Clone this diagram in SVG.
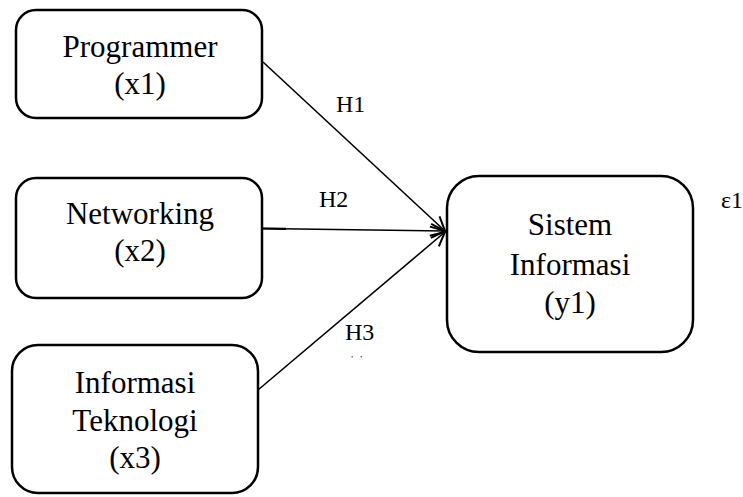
<svg xmlns="http://www.w3.org/2000/svg" width="743" height="497" viewBox="0 0 743 497">
  <style>
    .box { fill: #fff; stroke: #000; stroke-width: 2.5; }
    .lbl { font-family: "Liberation Serif", "Times New Roman", serif; font-size: 31px; fill: #000; text-anchor: middle; }
    .hyp { font-family: "Liberation Serif", "Times New Roman", serif; font-size: 24px; fill: #000; }
    .edge { stroke: #000; stroke-width: 1.6; fill: none; marker-end: url(#arrow); }
  </style>
  <defs>
    <marker id="arrow" viewBox="0 0 20 20" refX="18" refY="10" markerWidth="20" markerHeight="20" markerUnits="userSpaceOnUse" orient="auto">
      <path d="M4,3 L18,10 L4,17" fill="none" stroke="#000" stroke-width="2"/>
    </marker>
  </defs>

  <rect width="743" height="497" fill="#fff"/>

  <g id="connectors">
    <line class="edge" x1="263" y1="62" x2="445" y2="231"/>
    <line class="edge" x1="262" y1="228.5" x2="445" y2="231"/>
    <line x1="262" y1="228.5" x2="286" y2="228.8" stroke="#000" stroke-width="2.2"/>
    <line class="edge" x1="258" y1="390" x2="445" y2="232"/>
    <text class="hyp" x="336" y="112">H1</text>
    <text class="hyp" x="319" y="207">H2</text>
    <text class="hyp" x="345" y="340">H3</text>
    <rect x="351.5" y="356" width="1.5" height="1.5" fill="#777"/>
    <rect x="360.5" y="356" width="1.5" height="1.5" fill="#777"/>
  </g>

  <g id="x1">
    <rect class="box" x="16" y="10" width="246" height="108" rx="20"/>
    <text class="lbl" x="140" y="57">Programmer</text>
    <text class="lbl" x="140" y="94">(x1)</text>
  </g>

  <g id="x2">
    <rect class="box" x="16" y="178" width="246" height="120" rx="20"/>
    <text class="lbl" x="140" y="224">Networking</text>
    <text class="lbl" x="140" y="261">(x2)</text>
  </g>

  <g id="x3">
    <rect class="box" x="12" y="345" width="246" height="148" rx="26"/>
    <text class="lbl" x="135" y="393">Informasi</text>
    <text class="lbl" x="135" y="431">Teknologi</text>
    <text class="lbl" x="135" y="468">(x3)</text>
  </g>

  <g id="y1">
    <rect class="box" x="447" y="176" width="246" height="176" rx="32"/>
    <text class="lbl" x="570" y="235">Sistem</text>
    <text class="lbl" x="570" y="275">Informasi</text>
    <text class="lbl" x="570" y="313">(y1)</text>
  </g>

  <g id="e1">
    <text class="hyp" x="721" y="208" font-size="23">ε1</text>
  </g>
</svg>
